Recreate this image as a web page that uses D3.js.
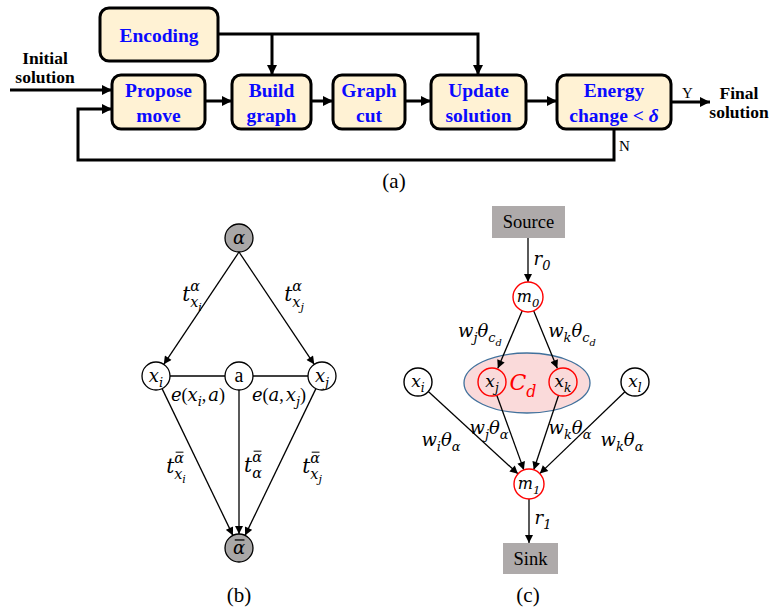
<!DOCTYPE html>
<html>
<head>
<meta charset="utf-8">
<script src="https://cdn.jsdelivr.net/npm/d3@7"></script>
<style>
  body { margin: 0; background: #fff; }
  svg { display: block; font-family: "Liberation Serif", "Times New Roman", serif; }
</style>
</head>
<body>
<svg id="fig" width="771" height="610"></svg>
<script>
// ---- (a) flow chart ----
var stepNames = [['Encoding'], ['Propose', 'move'], ['Build', 'graph'], ['Graph', 'cut'], ['Update', 'solution'], ['Energy', 'change < δ']];
var flowInputs = ['Initial', 'solution'];
var flowOutputs = ['Final', 'solution'];
var decisionLabels = ['Y', 'N'];
var panelTitles = ['(a)', '(b)', '(c)'];

// ---- (b) alpha expansion graph ----
var nodesB = ['alpha', 'xi', 'a', 'xj', 'abar'];
var edgesB = [['alpha', 'xi', 1], ['alpha', 'xj', 1], ['xi', 'a', 0], ['a', 'xj', 0], ['xi', 'abar', 1], ['a', 'abar', 1], ['xj', 'abar', 1]];

// ---- (c) clique graph ----
var nodesC = ['m0', 'xj', 'xk', 'xi', 'xl', 'm1'];
var edgesC = [['source', 'm0'], ['m0', 'xj'], ['m0', 'xk'], ['xi', 'm1'], ['xj', 'm1'], ['xk', 'm1'], ['xl', 'm1'], ['m1', 'sink']];
var terminalsC = ['Source', 'Sink'];

// layout (pixels)
var boxPos = [
  { x0: 100, x1: 218, y0: 8, y1: 61 },
  { x0: 112, x1: 205, y0: 75, y1: 129 },
  { x0: 232, x1: 311, y0: 75, y1: 129 },
  { x0: 333, x1: 405, y0: 75, y1: 129 },
  { x0: 431, x1: 526, y0: 75, y1: 129 },
  { x0: 557, x1: 671, y0: 75, y1: 129 }
];
var posB = { alpha: [239, 238], xi: [156, 376], a: [239, 376], xj: [322, 376], abar: [239, 548] };
var posC = { m0: [528, 297], xj: [492, 382], xk: [563, 382], xi: [418, 382], xl: [635, 382], m1: [529, 484] };
var rectC = { source: { x0: 492, x1: 565, y0: 206, y1: 238 }, sink: { x0: 503, x1: 558, y0: 543, y1: 574 } };
var R = 14;

var svg = d3.select('#fig');
var defs = svg.append('defs');

function marker(id, w, h) {
  defs.append('marker')
    .attr('id', id)
    .attr('markerUnits', 'userSpaceOnUse')
    .attr('viewBox', '0 0 10 10')
    .attr('refX', 10).attr('refY', 5)
    .attr('markerWidth', w).attr('markerHeight', h)
    .attr('orient', 'auto')
    .append('path').attr('d', 'M0,0L10,5L0,10z').attr('fill', '#000');
}
marker('big', 11, 10);
marker('small', 9, 8);

var line = d3.line();

// ---------- panel (a) ----------
var ga = svg.append('g');

function flowPath(pts, arrow) {
  ga.append('path')
    .attr('d', line(pts))
    .attr('fill', 'none')
    .attr('stroke', '#000')
    .attr('stroke-width', 3)
    .attr('marker-end', arrow ? 'url(#big)' : null);
}

// encoding distribution
flowPath([[boxPos[0].x1, 34], [478, 34], [478, boxPos[4].y0]], true);
flowPath([[272, 34], [272, boxPos[2].y0]], true);
// main chain
flowPath([[10, 90], [boxPos[1].x0, 90]], true);
for (var i = 1; i < boxPos.length - 1; i++) {
  flowPath([[boxPos[i].x1, 101], [boxPos[i + 1].x0, 101]], true);
}
flowPath([[boxPos[5].x1, 102], [710, 102]], true);
// feedback loop
flowPath([[614, boxPos[5].y1], [614, 160], [78, 160], [78, 109], [boxPos[1].x0, 109]], true);

ga.selectAll('rect.step')
  .data(boxPos)
  .join('rect')
  .attr('class', 'step')
  .attr('x', function(d) { return d.x0; })
  .attr('y', function(d) { return d.y0; })
  .attr('width', function(d) { return d.x1 - d.x0; })
  .attr('height', function(d) { return d.y1 - d.y0; })
  .attr('rx', 9)
  .attr('fill', '#fff2d4')
  .attr('stroke', '#000')
  .attr('stroke-width', 3);

stepNames.forEach(function(lines, k) {
  var b = boxPos[k];
  var cx = (b.x0 + b.x1) / 2;
  var cy = (b.y0 + b.y1) / 2;
  var start = cy + 7 - (lines.length - 1) * 12.5;
  lines.forEach(function(s, j) {
    var t = ga.append('text')
      .attr('x', cx)
      .attr('y', start + j * 25)
      .attr('text-anchor', 'middle')
      .attr('font-size', 19.5)
      .attr('font-weight', 'bold')
      .attr('fill', '#0a0aff');
    if (s.indexOf('δ') >= 0) {
      t.append('tspan').text(s.replace('δ', ''));
      t.append('tspan').attr('font-style', 'italic').text('δ');
    } else {
      t.text(s);
    }
  });
});

ga.selectAll('text.inp')
  .data(flowInputs)
  .join('text')
  .attr('x', 45)
  .attr('y', function(d, j) { return 64 + j * 19; })
  .attr('text-anchor', 'middle')
  .attr('font-size', 17.5)
  .attr('font-weight', 'bold')
  .text(function(d) { return d; });

ga.selectAll('text.out')
  .data(flowOutputs)
  .join('text')
  .attr('x', 739)
  .attr('y', function(d, j) { return 99 + j * 19; })
  .attr('text-anchor', 'middle')
  .attr('font-size', 17.5)
  .attr('font-weight', 'bold')
  .text(function(d) { return d; });

ga.append('text').attr('x', 682).attr('y', 98).attr('font-size', 15).text(decisionLabels[0]);
ga.append('text').attr('x', 619).attr('y', 151).attr('font-size', 15).text(decisionLabels[1]);

// panel titles
svg.selectAll('text.title')
  .data(panelTitles)
  .join('text')
  .attr('x', function(d, j) { return [394, 239, 528][j]; })
  .attr('y', function(d, j) { return [188, 602, 602][j]; })
  .attr('text-anchor', 'middle')
  .attr('font-size', 21)
  .text(function(d) { return d; });

// ---------- math label helper ----------
// one <text> per label; pieces are tspans placed at measured offsets
var MATH_FONT = '"DejaVu Serif", serif';
var UP_FONT = '"Liberation Serif", serif';
var probe = svg.append('text').attr('visibility', 'hidden');

function measure(s, fs, up) {
  probe.attr('font-size', fs)
    .attr('font-family', up ? UP_FONT : MATH_FONT)
    .attr('font-style', up ? 'normal' : 'italic')
    .text(s);
  return probe.node().getComputedTextLength();
}

function mathLabel(g, cx, base, parts, size, color) {
  var x = 0, lastStart = 0, maxX = 0;
  var placed = parts.map(function(p) {
    var start = p.back ? lastStart : x;
    var fs = size * (p.k || 1);
    var w = measure(p.s, fs, p.up);
    if (!p.back) lastStart = start;
    x = start + w + (p.gap || 0);
    maxX = Math.max(maxX, x);
    return { p: p, x: start, w: w, fs: fs, y: (p.dy || 0) * size };
  });
  var ox = cx - maxX / 2;
  var t = g.append('text').attr('fill', color || '#000');
  placed.forEach(function(q) {
    t.append('tspan')
      .attr('x', ox + q.x)
      .attr('y', base + q.y)
      .attr('font-size', q.fs)
      .attr('font-family', q.p.up ? UP_FONT : MATH_FONT)
      .attr('font-style', q.p.up ? 'normal' : 'italic')
      .text(q.p.s);
    if (q.p.bar) {
      g.append('line')
        .attr('x1', ox + q.x + q.w * 0.15).attr('x2', ox + q.x + q.w * 0.95)
        .attr('y1', base + q.y - q.fs * 0.78).attr('y2', base + q.y - q.fs * 0.78)
        .attr('stroke', color || '#000').attr('stroke-width', Math.max(0.8, q.fs / 14));
    }
  });
}

var SUP = -0.48, SUB = 0.3, SUBSUB = 0.48, K1 = 0.72, K2 = 0.55;
var LBL = 18;

function tLabel(barred, subVar, subIdx) {
  var p = [{ s: 't' }, { s: 'α', dy: SUP, k: K1, bar: barred }, { s: subVar, dy: SUB, k: K1, back: true }];
  if (subIdx) p.push({ s: subIdx, dy: SUBSUB, k: K2 });
  return p;
}

function edgeEnds(a, b, ra, rb) {
  var dx = b[0] - a[0], dy = b[1] - a[1];
  var L = Math.sqrt(dx * dx + dy * dy);
  return [[a[0] + dx / L * ra, a[1] + dy / L * ra], [b[0] - dx / L * rb, b[1] - dy / L * rb]];
}

// ---------- panel (b) ----------
var gb = svg.append('g');

gb.selectAll('path.edge')
  .data(edgesB)
  .join('path')
  .attr('d', function(e) {
    var a = posB[e[0]], b = posB[e[1]];
    var src = e[0] === 'alpha' ? [a[0], a[1] + R] : a;
    return line(edgeEnds(src, b, e[0] === 'alpha' ? 0 : R, R));
  })
  .attr('stroke', '#000')
  .attr('stroke-width', 1.3)
  .attr('fill', 'none')
  .attr('marker-end', function(e) { return e[2] ? 'url(#small)' : null; });

gb.selectAll('circle')
  .data(nodesB)
  .join('circle')
  .attr('cx', function(d) { return posB[d][0]; })
  .attr('cy', function(d) { return posB[d][1]; })
  .attr('r', R)
  .attr('fill', function(d) { return d === 'alpha' || d === 'abar' ? '#a9a7a7' : '#fff'; })
  .attr('stroke', '#000')
  .attr('stroke-width', 1.3);

var nodeLblB = {
  alpha: [{ s: 'α' }],
  xi: [{ s: 'x' }, { s: 'i', dy: SUB, k: K1 }],
  a: [{ s: 'a', up: true }],
  xj: [{ s: 'x' }, { s: 'j', dy: SUB, k: K1 }],
  abar: [{ s: 'α', bar: true }]
};
nodesB.forEach(function(d) {
  mathLabel(gb, posB[d][0], posB[d][1] + 6, nodeLblB[d], d === 'a' ? 20 : 18);
});

var edgeLblB = [
  { x: 192, y: 301, p: tLabel(false, 'x', 'i') },
  { x: 294, y: 301, p: tLabel(false, 'x', 'j') },
  { x: 198, y: 401, p: [{ s: 'e' }, { s: '(', up: true }, { s: 'x' }, { s: 'i', dy: SUB, k: K1 }, { s: ',', up: true, gap: 2 }, { s: 'a' }, { s: ')', up: true }] },
  { x: 279, y: 401, p: [{ s: 'e' }, { s: '(', up: true }, { s: 'a' }, { s: ',', up: true, gap: 2 }, { s: 'x' }, { s: 'j', dy: SUB, k: K1 }, { s: ')', up: true }] },
  { x: 176, y: 473, p: tLabel(true, 'x', 'i') },
  { x: 253, y: 472, p: tLabel(true, 'α') },
  { x: 312, y: 473, p: tLabel(true, 'x', 'j') }
];
edgeLblB.forEach(function(l, j) { mathLabel(gb, l.x, l.y, l.p, (j === 2 || j === 3) ? LBL : 20); });

// ---------- panel (c) ----------
var gc = svg.append('g');

gc.append('ellipse')
  .attr('cx', 527).attr('cy', 383).attr('rx', 63).attr('ry', 30)
  .attr('fill', '#fadada')
  .attr('stroke', '#41719c')
  .attr('stroke-width', 1.3);

gc.selectAll('path.edge')
  .data(edgesC)
  .join('path')
  .attr('d', function(e) {
    if (e[0] === 'source') {
      var s = rectC.source;
      return line([[528, s.y1], [528, posC.m0[1] - R - 1]]);
    }
    if (e[1] === 'sink') {
      var k = rectC.sink;
      return line([[posC.m1[0], posC.m1[1] + R], [posC.m1[0], k.y0]]);
    }
    return line(edgeEnds(posC[e[0]], posC[e[1]], R, R + 1));
  })
  .attr('stroke', '#000')
  .attr('stroke-width', 1.3)
  .attr('fill', 'none')
  .attr('marker-end', 'url(#small)');

var redNodes = ['m0', 'xj', 'xk', 'm1'];
gc.selectAll('circle')
  .data(nodesC)
  .join('circle')
  .attr('cx', function(d) { return posC[d][0]; })
  .attr('cy', function(d) { return posC[d][1]; })
  .attr('r', function(d) { return d[0] === 'm' ? R + 1 : R; })
  .attr('fill', function(d) { return d === 'xj' || d === 'xk' ? 'none' : '#fff'; })
  .attr('stroke', function(d) { return redNodes.indexOf(d) >= 0 ? '#ff0000' : '#000'; })
  .attr('stroke-width', 1.4);

['source', 'sink'].forEach(function(id, j) {
  var r = rectC[id];
  gc.append('rect')
    .attr('x', r.x0).attr('y', r.y0)
    .attr('width', r.x1 - r.x0).attr('height', r.y1 - r.y0)
    .attr('fill', '#aeaaaa');
  gc.append('text')
    .attr('x', (r.x0 + r.x1) / 2)
    .attr('y', (r.y0 + r.y1) / 2 + 6)
    .attr('text-anchor', 'middle')
    .attr('font-size', 18.5)
    .text(terminalsC[j]);
});

var nodeLblC = {
  m0: [{ s: 'm' }, { s: '0', dy: SUB, k: K1 }],
  xj: [{ s: 'x' }, { s: 'j', dy: SUB, k: K1 }],
  xk: [{ s: 'x' }, { s: 'k', dy: SUB, k: K1 }],
  xi: [{ s: 'x' }, { s: 'i', dy: SUB, k: K1 }],
  xl: [{ s: 'x' }, { s: 'l', dy: SUB, k: K1 }],
  m1: [{ s: 'm' }, { s: '1', dy: SUB, k: K1 }]
};
nodesC.forEach(function(d) {
  mathLabel(gc, posC[d][0], posC[d][1] + 5, nodeLblC[d], d[0] === 'm' ? 16 : 17);
});

function wTheta(w, cd) {
  var p = [{ s: 'w' }, { s: w, dy: SUB, k: K1 }, { s: 'θ' }];
  if (cd) { p.push({ s: 'c', dy: SUB, k: K1 }); p.push({ s: 'd', dy: SUBSUB, k: K2 }); }
  else p.push({ s: 'α', dy: SUB, k: K1 });
  return p;
}

var edgeLblC = [
  { x: 542, y: 265, p: [{ s: 'r' }, { s: '0', dy: SUB, k: K1 }] },
  { x: 480, y: 337, p: wTheta('j', true) },
  { x: 572, y: 337, p: wTheta('k', true) },
  { x: 441, y: 446, p: wTheta('i') },
  { x: 489, y: 434, p: wTheta('j') },
  { x: 570, y: 434, p: wTheta('k') },
  { x: 622, y: 446, p: wTheta('k') },
  { x: 543, y: 524, p: [{ s: 'r' }, { s: '1', dy: SUB, k: K1 }] }
];
edgeLblC.forEach(function(l) { mathLabel(gc, l.x, l.y, l.p, LBL); });

mathLabel(gc, 523, 390, [{ s: 'C' }, { s: 'd', dy: SUB, k: K1 }], 22, '#ff0000');
</script>
</body>
</html>
